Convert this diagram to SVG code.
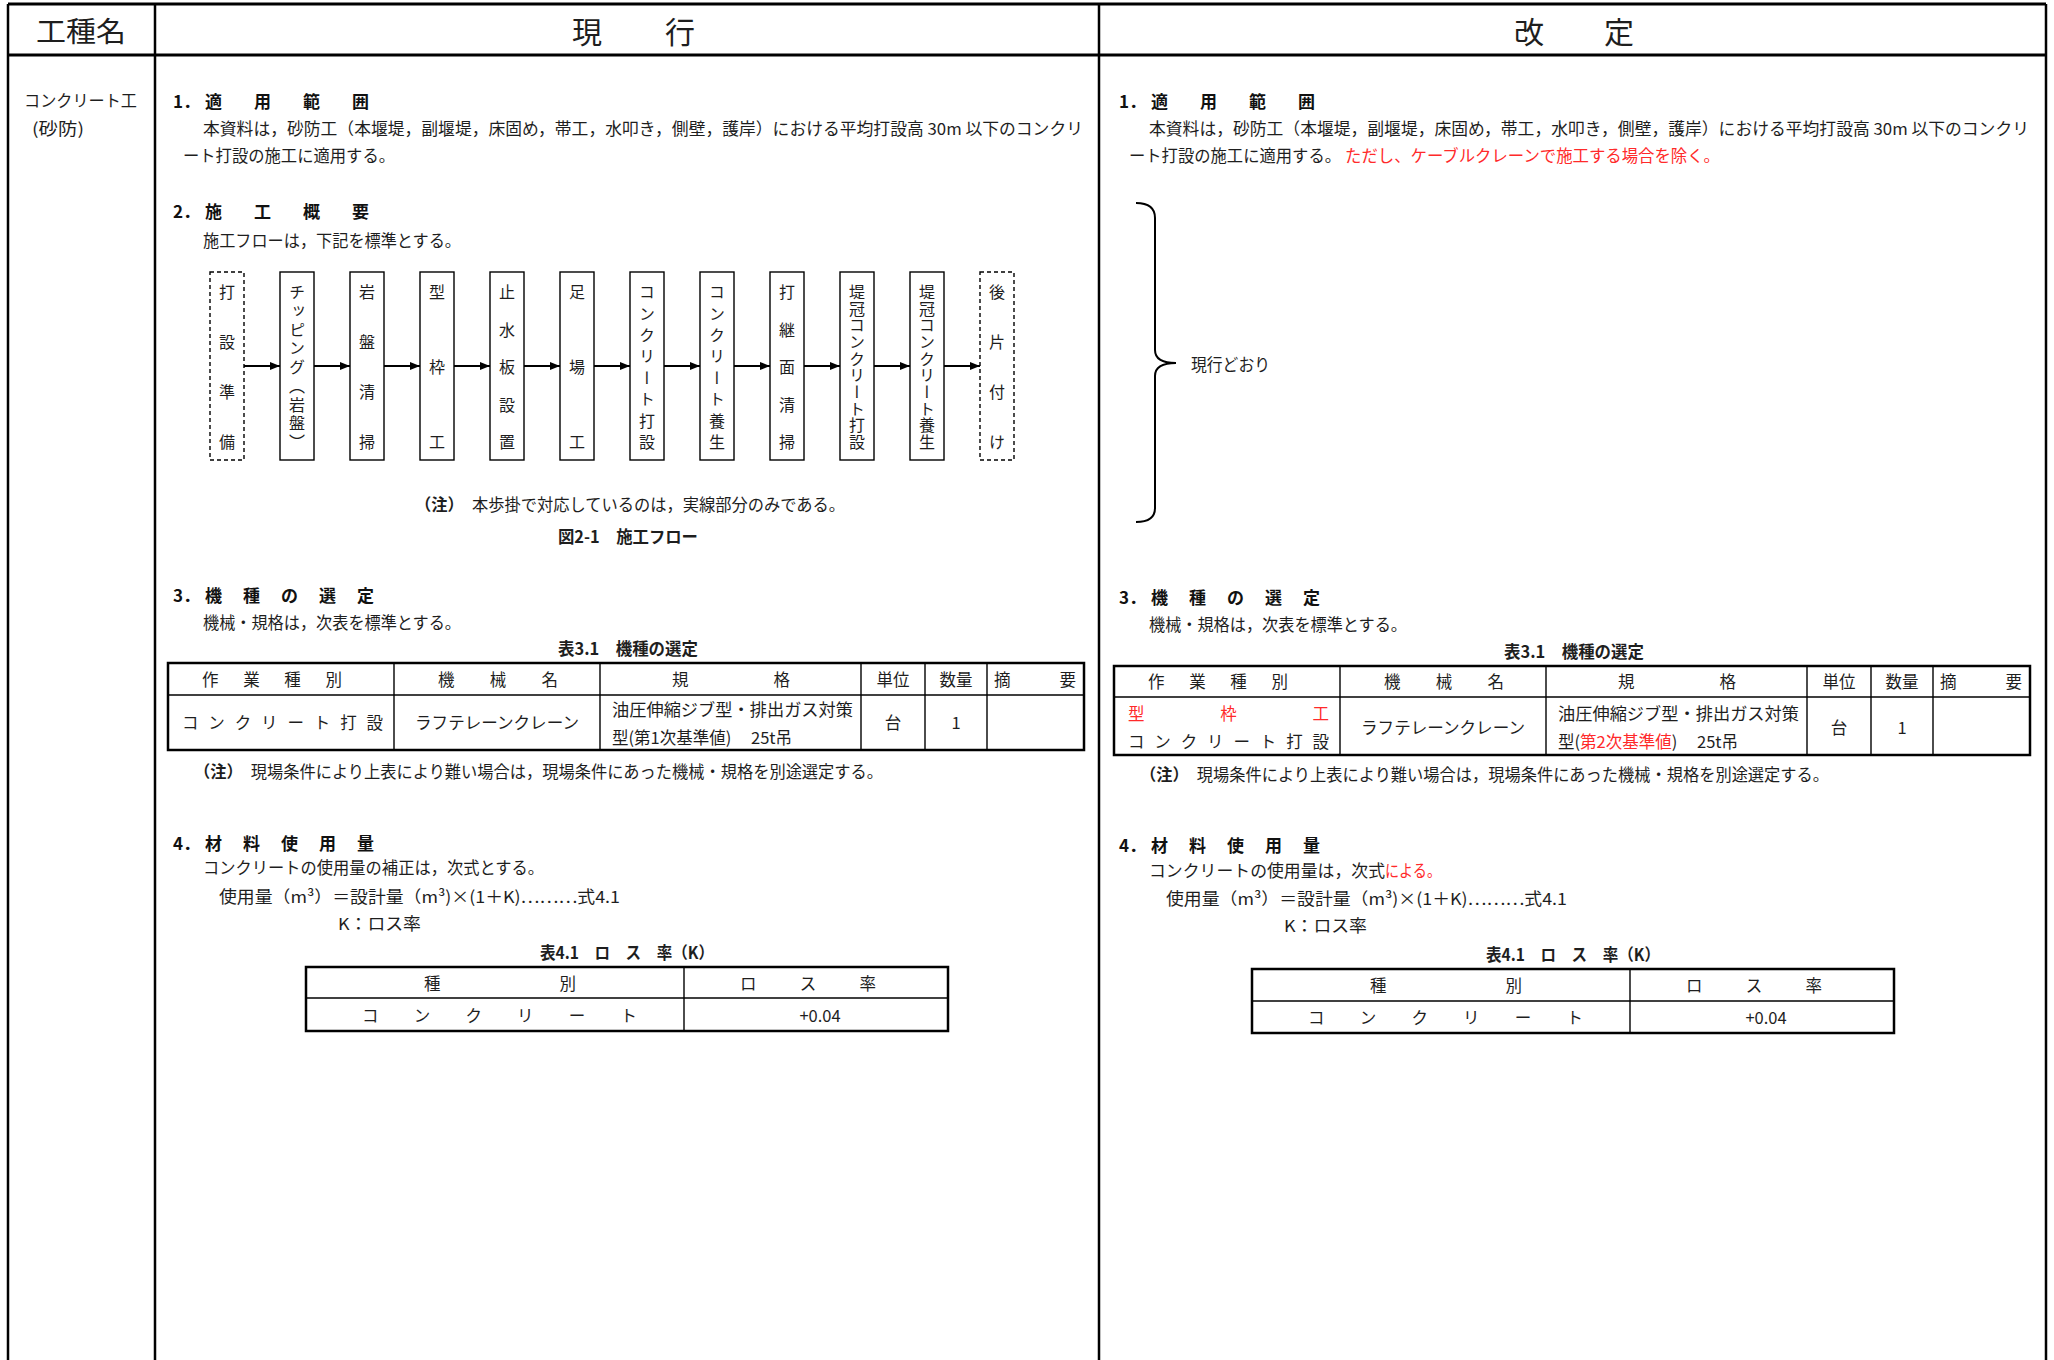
<svg xmlns="http://www.w3.org/2000/svg" width="2054" height="1360" viewBox="0 0 2054 1360">
<defs>
<style>
.t{font-family:"Noto Sans CJK JP","Noto Sans CJK SC",sans-serif;font-size:16.5px;fill:#1e1e1e;dominant-baseline:central}
.big{font-family:"Noto Sans CJK JP","Noto Sans CJK SC",sans-serif;font-size:28px;fill:#1e1e1e;dominant-baseline:central}
.hd{font-family:"Noto Sans CJK JP","Noto Sans CJK SC",sans-serif;font-size:17px;font-weight:bold;fill:#111;dominant-baseline:central}
.b{font-weight:bold}
.red{fill:#ff2a2a}
.v{font-family:"Noto Sans CJK JP","Noto Sans CJK SC",sans-serif;font-size:16px;fill:#1e1e1e;writing-mode:vertical-rl}
.frame{stroke:#000;stroke-width:2.5;fill:none}
.thick{stroke:#000;stroke-width:3;fill:none}
.tbo{stroke:#000;stroke-width:2.5;fill:none}
.tbi{stroke:#000;stroke-width:1.4;fill:none}
.box{fill:#fff;stroke:#000;stroke-width:1.4}
.dbox{fill:#fff;stroke:#000;stroke-width:1.4;stroke-dasharray:4 3}
.arr{stroke:#000;stroke-width:2;fill:none}
</style>
<marker id="ah" markerUnits="userSpaceOnUse" markerWidth="10" markerHeight="8" refX="10" refY="4" orient="auto">
<path d="M0,0 L10,4 L0,8 z" fill="#000"/>
</marker>
</defs>
<rect width="2054" height="1360" fill="#fff"/>

<g id="frame">
<line class="thick" x1="8" y1="4" x2="2046" y2="4"/>
<line class="thick" x1="8" y1="55" x2="2046" y2="55"/>
<line class="frame" x1="8" y1="4" x2="8" y2="1360"/>
<line class="frame" x1="155" y1="4" x2="155" y2="1360"/>
<line class="frame" x1="1099" y1="4" x2="1099" y2="1360"/>
<line class="frame" x1="2046" y1="4" x2="2046" y2="1360"/>
</g>

<g id="header">
<text class="big" x="36" y="30" textLength="90" lengthAdjust="spacingAndGlyphs">工種名</text>
<text class="big" x="572" y="30" style="font-size:30px" textLength="123" lengthAdjust="spacing">現　　行</text>
<text class="big" x="1514" y="30" style="font-size:30px" textLength="120" lengthAdjust="spacing">改　　定</text>
</g>

<g id="sidebar">
<text class="t" x="24" y="100" textLength="113" lengthAdjust="spacingAndGlyphs">コンクリート工</text>
<text class="t" x="32" y="128" textLength="52" lengthAdjust="spacingAndGlyphs">(砂防)</text>
</g>

<g id="current">
<text class="hd" y="100"><tspan x="173">1．</tspan><tspan x="205">適</tspan><tspan x="254">用</tspan><tspan x="303">範</tspan><tspan x="352">囲</tspan></text>
<text class="t" x="203" y="128" textLength="880" lengthAdjust="spacingAndGlyphs">本資料は，砂防工（本堰堤，副堰堤，床固め，帯工，水叩き，側壁，護岸）における平均打設高 30m 以下のコンクリ</text>
<text class="t" x="183" y="155" textLength="212" lengthAdjust="spacingAndGlyphs">ート打設の施工に適用する。</text>

<text class="hd" y="210"><tspan x="173">2．</tspan><tspan x="205">施</tspan><tspan x="254">工</tspan><tspan x="303">概</tspan><tspan x="352">要</tspan></text>
<text class="t" x="203" y="240" textLength="258" lengthAdjust="spacingAndGlyphs">施工フローは，下記を標準とする。</text>

<g id="flow">
<g id="connectors">
<line class="arr" x1="244" y1="366" x2="280" y2="366" marker-end="url(#ah)"/>
<line class="arr" x1="314" y1="366" x2="350" y2="366" marker-end="url(#ah)"/>
<line class="arr" x1="384" y1="366" x2="420" y2="366" marker-end="url(#ah)"/>
<line class="arr" x1="454" y1="366" x2="490" y2="366" marker-end="url(#ah)"/>
<line class="arr" x1="524" y1="366" x2="560" y2="366" marker-end="url(#ah)"/>
<line class="arr" x1="594" y1="366" x2="630" y2="366" marker-end="url(#ah)"/>
<line class="arr" x1="664" y1="366" x2="700" y2="366" marker-end="url(#ah)"/>
<line class="arr" x1="734" y1="366" x2="770" y2="366" marker-end="url(#ah)"/>
<line class="arr" x1="804" y1="366" x2="840" y2="366" marker-end="url(#ah)"/>
<line class="arr" x1="874" y1="366" x2="910" y2="366" marker-end="url(#ah)"/>
<line class="arr" x1="944" y1="366" x2="980" y2="366" marker-end="url(#ah)"/>
</g>
<g id="n1"><rect class="dbox" x="210" y="272" width="34" height="188"/><text class="v" x="227" y="284" letter-spacing="34">打設準備</text></g>
<g id="n2"><rect class="box" x="280" y="272" width="34" height="188"/><text class="v" x="297" y="284" letter-spacing="2.75">チッピング（岩盤）</text></g>
<g id="n3"><rect class="box" x="350" y="272" width="34" height="188"/><text class="v" x="367" y="284" letter-spacing="34">岩盤清掃</text></g>
<g id="n4"><rect class="box" x="420" y="272" width="34" height="188"/><text class="v" x="437" y="284" letter-spacing="59">型枠工</text></g>
<g id="n5"><rect class="box" x="490" y="272" width="34" height="188"/><text class="v" x="507" y="284" letter-spacing="21.5">止水板設置</text></g>
<g id="n6"><rect class="box" x="560" y="272" width="34" height="188"/><text class="v" x="577" y="284" letter-spacing="59">足場工</text></g>
<g id="n7"><rect class="box" x="630" y="272" width="34" height="188"/><text class="v" x="647" y="284" letter-spacing="5.43">コンクリート打設</text></g>
<g id="n8"><rect class="box" x="700" y="272" width="34" height="188"/><text class="v" x="717" y="284" letter-spacing="5.43">コンクリート養生</text></g>
<g id="n9"><rect class="box" x="770" y="272" width="34" height="188"/><text class="v" x="787" y="284" letter-spacing="21.5">打継面清掃</text></g>
<g id="n10"><rect class="box" x="840" y="272" width="34" height="188"/><text class="v" x="857" y="284" letter-spacing="0.67">堤冠コンクリート打設</text></g>
<g id="n11"><rect class="box" x="910" y="272" width="34" height="188"/><text class="v" x="927" y="284" letter-spacing="0.67">堤冠コンクリート養生</text></g>
<g id="n12"><rect class="dbox" x="980" y="272" width="34" height="188"/><text class="v" x="997" y="284" letter-spacing="34">後片付け</text></g>
</g>
<text class="t" x="415" y="504" textLength="430" lengthAdjust="spacingAndGlyphs"><tspan class="b">（注）</tspan>　本歩掛で対応しているのは，実線部分のみである。</text>
<text class="t b" x="558" y="536" textLength="140" lengthAdjust="spacingAndGlyphs">図2-1　施工フロー</text>

<text class="hd" y="594"><tspan x="173">3．</tspan><tspan x="205">機</tspan><tspan x="243">種</tspan><tspan x="281">の</tspan><tspan x="319">選</tspan><tspan x="357">定</tspan></text>
<text class="t" x="203" y="622" textLength="258" lengthAdjust="spacingAndGlyphs">機械・規格は，次表を標準とする。</text>
<text class="t b" x="558" y="648" textLength="140" lengthAdjust="spacingAndGlyphs">表3.1　機種の選定</text>
<g id="table31-current">
<rect class="tbo" x="168" y="663" width="916" height="87"/>
<line class="tbi" x1="168" y1="695" x2="1084" y2="695"/>
<line class="tbi" x1="394" y1="663" x2="394" y2="750"/>
<line class="tbi" x1="600" y1="663" x2="600" y2="750"/>
<line class="tbi" x1="861" y1="663" x2="861" y2="750"/>
<line class="tbi" x1="925" y1="663" x2="925" y2="750"/>
<line class="tbi" x1="987" y1="663" x2="987" y2="750"/>
<text class="t" x="202" y="679" textLength="140" lengthAdjust="spacing">作　業　種　別</text>
<text class="t" x="438" y="679" textLength="120" lengthAdjust="spacing">機　　械　　名</text>
<text class="t" x="672" y="679" textLength="118" lengthAdjust="spacing">規　　　　格</text>
<text class="t" x="893" y="679" text-anchor="middle">単位</text>
<text class="t" x="956" y="679" text-anchor="middle">数量</text>
<text class="t" x="994" y="679" textLength="82" lengthAdjust="spacing">摘　　要</text>
<text class="t" x="182" y="722" textLength="201" lengthAdjust="spacing">コ　ン　ク　リ　ー　ト　打　設</text>
<text class="t" x="415" y="722" textLength="164" lengthAdjust="spacingAndGlyphs">ラフテレーンクレーン</text>
<text class="t" x="612" y="709" textLength="241" lengthAdjust="spacingAndGlyphs">油圧伸縮ジブ型・排出ガス対策</text>
<text class="t" y="737"><tspan x="612">型(第1次基準値)</tspan><tspan x="751">25t吊</tspan></text>
<text class="t" x="893" y="722" text-anchor="middle">台</text>
<text class="t" x="956" y="722" text-anchor="middle">1</text>
</g>
<text class="t" x="194" y="771" textLength="689" lengthAdjust="spacingAndGlyphs"><tspan class="b">（注）</tspan>　現場条件により上表により難い場合は，現場条件にあった機械・規格を別途選定する。</text>

<text class="hd" y="842"><tspan x="173">4．</tspan><tspan x="205">材</tspan><tspan x="243">料</tspan><tspan x="281">使</tspan><tspan x="319">用</tspan><tspan x="357">量</tspan></text>
<text class="t" x="203" y="867" textLength="341" lengthAdjust="spacingAndGlyphs">コンクリートの使用量の補正は，次式とする。</text>
<text class="t" x="219" y="896" textLength="401" lengthAdjust="spacingAndGlyphs">使用量（m³）＝設計量（m³)×(1＋K)………式4.1</text>
<text class="t" x="338" y="923" textLength="83" lengthAdjust="spacingAndGlyphs">K：ロス率</text>
<text class="t b" x="540" y="952" textLength="174" lengthAdjust="spacingAndGlyphs">表4.1　ロ　ス　率（K）</text>
<g id="table41-current">
<rect class="tbo" x="306" y="967" width="642" height="64"/>
<line class="tbi" x1="306" y1="998" x2="948" y2="998"/>
<line class="tbi" x1="684" y1="967" x2="684" y2="1031"/>
<text class="t" x="424" y="983" textLength="152" lengthAdjust="spacing">種　　　　別</text>
<text class="t" x="740" y="983" textLength="136" lengthAdjust="spacing">ロ　　ス　　率</text>
<text class="t" x="362" y="1015" textLength="275" lengthAdjust="spacing">コ　　ン　　ク　　リ　　ー　　ト</text>
<text class="t" x="820" y="1015" text-anchor="middle">+0.04</text>
</g>
</g>

<g id="revised">
<text class="hd" y="100"><tspan x="1119">1．</tspan><tspan x="1151">適</tspan><tspan x="1200">用</tspan><tspan x="1249">範</tspan><tspan x="1298">囲</tspan></text>
<text class="t" x="1149" y="128" textLength="880" lengthAdjust="spacingAndGlyphs">本資料は，砂防工（本堰堤，副堰堤，床固め，帯工，水叩き，側壁，護岸）における平均打設高 30m 以下のコンクリ</text>
<text class="t" x="1129" y="155" textLength="212" lengthAdjust="spacingAndGlyphs">ート打設の施工に適用する。</text>
<text class="t red" x="1345" y="155" textLength="375" lengthAdjust="spacingAndGlyphs">ただし、ケーブルクレーンで施工する場合を除く。</text>

<g id="brace">
<path d="M1136,203 Q1155,203 1155,218 L1155,350 Q1155,363 1176,363 Q1155,363 1155,376 L1155,508 Q1155,522 1136,522" fill="none" stroke="#000" stroke-width="2"/>
<text class="t" x="1191" y="364" fill="#333" textLength="79" lengthAdjust="spacingAndGlyphs">現行どおり</text>
</g>

<text class="hd" y="596"><tspan x="1119">3．</tspan><tspan x="1151">機</tspan><tspan x="1189">種</tspan><tspan x="1227">の</tspan><tspan x="1265">選</tspan><tspan x="1303">定</tspan></text>
<text class="t" x="1149" y="624" textLength="258" lengthAdjust="spacingAndGlyphs">機械・規格は，次表を標準とする。</text>
<text class="t b" x="1504" y="651" textLength="140" lengthAdjust="spacingAndGlyphs">表3.1　機種の選定</text>
<g id="table31-revised">
<rect class="tbo" x="1114" y="666" width="916" height="89"/>
<line class="tbi" x1="1114" y1="697" x2="2030" y2="697"/>
<line class="tbi" x1="1340" y1="666" x2="1340" y2="755"/>
<line class="tbi" x1="1546" y1="666" x2="1546" y2="755"/>
<line class="tbi" x1="1807" y1="666" x2="1807" y2="755"/>
<line class="tbi" x1="1871" y1="666" x2="1871" y2="755"/>
<line class="tbi" x1="1933" y1="666" x2="1933" y2="755"/>
<text class="t" x="1148" y="681" textLength="140" lengthAdjust="spacing">作　業　種　別</text>
<text class="t" x="1384" y="681" textLength="120" lengthAdjust="spacing">機　　械　　名</text>
<text class="t" x="1618" y="681" textLength="118" lengthAdjust="spacing">規　　　　格</text>
<text class="t" x="1839" y="681" text-anchor="middle">単位</text>
<text class="t" x="1902" y="681" text-anchor="middle">数量</text>
<text class="t" x="1940" y="681" textLength="82" lengthAdjust="spacing">摘　　要</text>
<text class="t red" x="1128" y="713" textLength="201" lengthAdjust="spacing">型　　　枠　　　工</text>
<text class="t" x="1128" y="741" textLength="201" lengthAdjust="spacing">コ　ン　ク　リ　ー　ト　打　設</text>
<text class="t" x="1361" y="727" textLength="164" lengthAdjust="spacingAndGlyphs">ラフテレーンクレーン</text>
<text class="t" x="1558" y="713" textLength="241" lengthAdjust="spacingAndGlyphs">油圧伸縮ジブ型・排出ガス対策</text>
<text class="t" y="741"><tspan x="1558">型(</tspan><tspan class="red">第2次基準値</tspan><tspan>)</tspan><tspan x="1697">25t吊</tspan></text>
<text class="t" x="1839" y="727" text-anchor="middle">台</text>
<text class="t" x="1902" y="727" text-anchor="middle">1</text>
</g>
<text class="t" x="1140" y="774" textLength="689" lengthAdjust="spacingAndGlyphs"><tspan class="b">（注）</tspan>　現場条件により上表により難い場合は，現場条件にあった機械・規格を別途選定する。</text>

<text class="hd" y="844"><tspan x="1119">4．</tspan><tspan x="1151">材</tspan><tspan x="1189">料</tspan><tspan x="1227">使</tspan><tspan x="1265">用</tspan><tspan x="1303">量</tspan></text>
<text class="t" x="1149" y="870" textLength="236" lengthAdjust="spacingAndGlyphs">コンクリートの使用量は，次式</text>
<text class="t red" x="1385" y="870" textLength="56" lengthAdjust="spacingAndGlyphs">による。</text>
<text class="t" x="1166" y="898" textLength="401" lengthAdjust="spacingAndGlyphs">使用量（m³）＝設計量（m³)×(1＋K)………式4.1</text>
<text class="t" x="1284" y="925" textLength="83" lengthAdjust="spacingAndGlyphs">K：ロス率</text>
<text class="t b" x="1486" y="954" textLength="174" lengthAdjust="spacingAndGlyphs">表4.1　ロ　ス　率（K）</text>
<g id="table41-revised">
<rect class="tbo" x="1252" y="969" width="642" height="64"/>
<line class="tbi" x1="1252" y1="1001" x2="1894" y2="1001"/>
<line class="tbi" x1="1630" y1="969" x2="1630" y2="1033"/>
<text class="t" x="1370" y="985" textLength="152" lengthAdjust="spacing">種　　　　別</text>
<text class="t" x="1686" y="985" textLength="136" lengthAdjust="spacing">ロ　　ス　　率</text>
<text class="t" x="1308" y="1017" textLength="275" lengthAdjust="spacing">コ　　ン　　ク　　リ　　ー　　ト</text>
<text class="t" x="1766" y="1017" text-anchor="middle">+0.04</text>
</g>
</g>
</svg>
